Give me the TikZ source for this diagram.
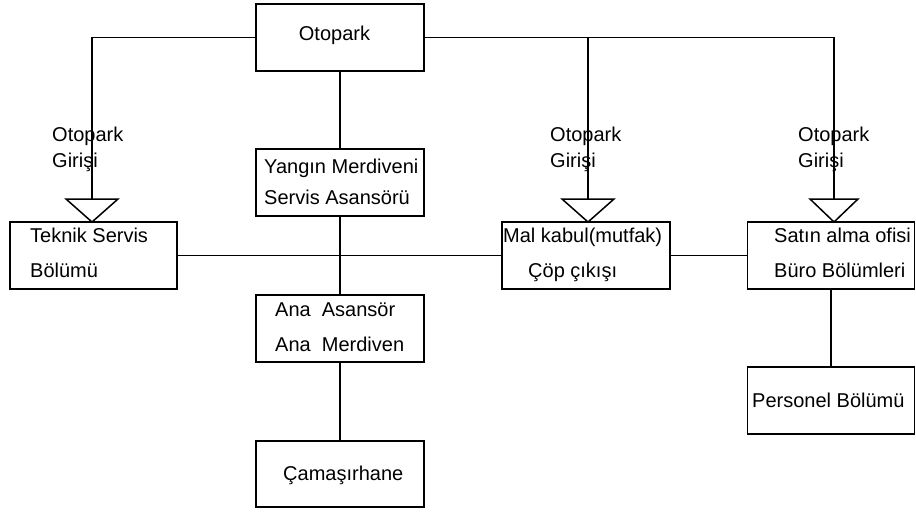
\documentclass[tikz,border=0pt]{standalone}
\usepackage{fontspec}
\setmainfont{Liberation Sans}
\begin{document}
\begin{tikzpicture}[x=1pt,y=-1pt,
  box/.style={draw, line width=1.5pt, inner sep=0pt, minimum width=168pt, minimum height=67pt},
  txt/.style={anchor=base west, inner sep=0pt, font=\fontsize{20}{24}\selectfont},
  conn/.style={line width=1.5pt},
  entry/.style={draw, line width=1.5pt, fill=white}]
\useasboundingbox (0,0) rectangle (916,512);
% boxes
\node[box] (otopark) at (340,37.5) {};
\node[box, minimum width=167pt] (teknik) at (93.5,255.5) {};
\node[box] (yangin) at (340,182.5) {};
\node[box] (ana) at (340,328.5) {};
\node[box, minimum height=66pt] (cama) at (340,474) {};
\node[box] (mal) at (586,255.5) {};
\node[box, minimum width=167pt] (satin) at (831,255.5) {};
\node[box, minimum width=167pt] (personel) at (831,400.5) {};
% coordinates for entries
\coordinate (e1) at (92,199);
\coordinate (a1) at (92,222);
\coordinate (e2) at (588,199);
\coordinate (a2) at (588,222);
\coordinate (j2) at (588,37);
\coordinate (e3) at (834,199);
\coordinate (a3) at (834,222);
% connectors
\draw[conn] (otopark.west) -| (e1);
\draw[conn] (otopark.east) -| (e3);
\draw[conn] (j2) -- (e2);
\draw[conn] (otopark.south) -- (yangin.north);
\draw[conn] (yangin.south) -- (ana.north);
\draw[conn] (ana.south) -- (cama.north);
\draw[conn] (teknik.east) -- (mal.west);
\draw[conn] (mal.east) -- (satin.west);
\draw[conn] (satin.south) -- (personel.north);
% entry triangles
\draw[entry] ([xshift=-26pt]e1) -- ([xshift=26pt]e1) -- (a1) -- cycle;
\draw[entry] ([xshift=-26pt]e2) -- ([xshift=26pt]e2) -- (a2) -- cycle;
\draw[entry] ([xshift=-24pt]e3) -- ([xshift=24pt]e3) -- (a3) -- cycle;
% texts
\node[txt, anchor=base] (t0) at (334.5,40.5) {Otopark};
\node[txt] (l1a) at (52,141) {Otopark};
\node[txt] (l1b) at (52,167.5) {Girişi};
\node[txt] (l2a) at (550,141) {Otopark};
\node[txt] (l2b) at (550,167.5) {Girişi};
\node[txt] (l3a) at (798,141) {Otopark};
\node[txt] (l3b) at (798,167.5) {Girişi};
\node[txt] (t1a) at (30,242.5) {Teknik Servis};
\node[txt] (t1b) at (30,277.5) {Bölümü};
\node[txt] (t2a) at (264,173.5) {Yangın Merdiveni};
\node[txt] (t2b) at (264,204) {Servis Asansörü};
\node[txt] (t3a) at (275,316) {Ana~~Asansör};
\node[txt] (t3b) at (275,351) {Ana~~Merdiven};
\node[txt] (t4) at (283,480) {Çamaşırhane};
\node[txt] (t5a) at (503,242.5) {Mal kabul(mutfak)};
\node[txt] (t5b) at (528,277.5) {Çöp çıkışı};
\node[txt] (t6a) at (774,242.5) {Satın alma ofisi};
\node[txt] (t6b) at (774,277.5) {Büro Bölümleri};
\node[txt] (t7) at (752,407) {Personel Bölümü};
\end{tikzpicture}
\end{document}
